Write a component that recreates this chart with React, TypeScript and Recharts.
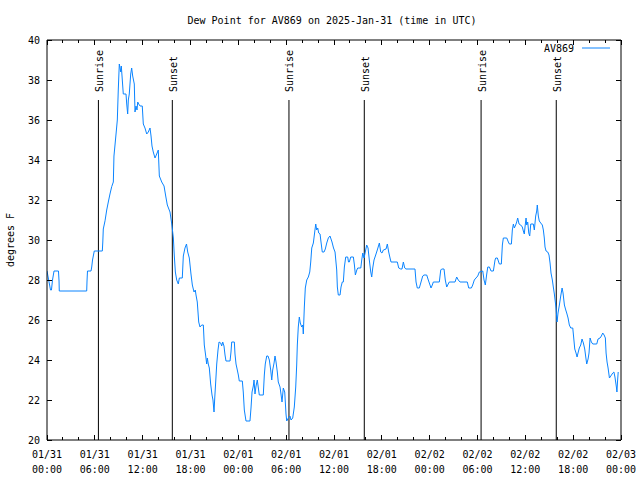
import React from 'react';
import { LineChart, Line, XAxis, YAxis, ReferenceLine, ReferenceDot } from 'recharts';

const hours: number[] = [
  0.00, 0.21, 0.44, 0.56, 0.69, 0.88, 1.44, 1.51, 1.54, 4.98, 5.02, 5.08, 5.52, 5.61, 5.71, 5.93, 6.94, 7.00, 7.06, 7.28,
  7.49, 7.69, 7.90, 8.12, 8.32, 8.40, 8.66, 8.82, 8.94, 9.07, 9.25, 9.32, 9.41, 9.57, 9.91, 10.00, 10.12, 10.20, 10.32, 10.50,
  10.62, 10.75, 10.95, 11.04, 11.16, 11.29, 11.38, 11.50, 11.67, 11.95, 12.08, 12.29, 12.51, 12.71, 12.92, 13.05, 13.17, 13.33, 13.55, 13.76,
  13.96, 14.09, 14.39, 14.68, 14.89, 15.09, 15.43, 15.65, 15.85, 15.97, 16.10, 16.27, 16.47, 16.60, 16.97, 17.10, 17.31, 17.50, 17.65, 17.85,
  18.06, 18.23, 18.44, 18.60, 18.69, 18.85, 19.03, 19.19, 19.41, 19.61, 19.73, 19.91, 20.03, 20.11, 20.23, 20.36, 20.53, 20.70, 20.82, 20.95,
  21.04, 21.16, 21.29, 21.45, 21.58, 21.79, 21.91, 22.04, 22.20, 22.33, 22.45, 22.96, 23.08, 23.17, 23.50, 23.58, 23.71, 23.87, 24.00, 24.12,
  24.50, 24.62, 24.75, 24.96, 25.46, 25.59, 25.72, 25.88, 25.97, 26.09, 26.22, 26.38, 26.51, 26.63, 27.13, 27.26, 27.38, 27.56, 27.72, 27.89,
  28.06, 28.19, 28.31, 28.48, 28.60, 28.73, 28.89, 29.01, 29.23, 29.35, 29.48, 29.64, 29.82, 29.98, 30.07, 30.27, 30.48, 30.61, 30.82, 31.02,
  31.20, 31.32, 31.40, 31.52, 31.65, 31.77, 31.95, 32.08, 32.15, 32.28, 32.40, 32.58, 32.78, 32.96, 33.08, 33.21, 33.41, 33.58, 33.71, 33.83,
  33.96, 34.08, 34.25, 34.37, 34.53, 34.75, 34.91, 35.09, 35.29, 35.50, 35.75, 35.94, 36.13, 36.34, 36.42, 36.54, 36.76, 36.88, 37.04, 37.17,
  37.30, 37.47, 37.72, 37.82, 37.92, 38.10, 38.43, 38.56, 38.68, 38.86, 38.98, 39.36, 39.48, 39.61, 39.77, 39.90, 40.10, 40.27, 40.43, 40.61,
  40.73, 40.86, 41.02, 41.23, 41.43, 41.69, 41.86, 42.02, 42.19, 42.53, 42.69, 42.86, 43.03, 43.15, 43.94, 44.12, 44.37, 44.53, 44.70, 44.87,
  45.03, 46.16, 46.29, 46.45, 46.70, 46.88, 47.13, 47.29, 47.63, 47.83, 48.04, 48.17, 48.33, 48.46, 49.21, 49.39, 49.51, 49.80, 49.96, 50.14,
  50.26, 50.46, 51.18, 51.39, 51.59, 51.81, 52.72, 52.90, 53.23, 53.40, 53.60, 53.81, 54.03, 54.23, 54.66, 54.82, 54.98, 55.16, 55.29, 55.49,
  55.70, 55.99, 56.20, 56.29, 56.49, 56.74, 56.99, 57.12, 57.24, 57.67, 57.87, 58.00, 58.25, 58.37, 58.50, 58.62, 58.79, 58.92, 59.04, 59.21,
  59.42, 59.62, 59.75, 59.87, 59.96, 60.09, 60.17, 60.30, 60.43, 60.55, 60.68, 61.00, 61.13, 61.30, 61.43, 61.50, 61.63, 61.75, 61.93, 62.13,
  62.26, 62.38, 62.47, 62.60, 62.81, 62.97, 63.10, 63.22, 63.39, 63.51, 63.64, 63.73, 63.85, 63.98, 64.10, 64.27, 64.44, 64.61, 64.73, 64.90,
  65.07, 65.19, 65.36, 65.52, 65.70, 65.95, 66.07, 66.20, 66.36, 66.49, 66.61, 66.77, 66.95, 67.11, 67.28, 67.45, 67.58, 67.70, 67.87, 67.99,
  68.12, 68.28, 68.46, 68.96, 69.12, 69.37, 69.54, 69.71, 69.88, 70.04, 70.13, 70.25, 70.38, 70.55, 70.72, 70.97, 71.11, 71.24, 71.42, 71.49,
  71.56, 71.65,
];

const dewPoint: number[] = [
  28.45, 28.0, 27.5, 27.5, 28.0, 28.45, 28.45, 27.95, 27.45, 27.45, 27.95, 28.45, 28.45, 28.65, 29.0, 29.45, 29.45, 29.9, 30.55, 30.96,
  31.5, 31.9, 32.3, 32.67, 32.9, 34.2, 35.3, 36.0, 37.5, 38.8, 38.4, 38.7, 38.2, 37.3, 37.3, 36.8, 36.3, 37.0, 37.3, 38.3,
  38.6, 38.2, 37.8, 36.4, 36.7, 36.5, 36.9, 36.8, 36.7, 36.7, 35.8, 35.6, 35.3, 35.4, 35.6, 35.2, 34.7, 34.4, 34.1, 34.3,
  34.5, 33.2, 32.9, 32.7, 32.2, 31.75, 31.4, 30.8, 30.1, 29.2, 28.4, 28.0, 27.8, 28.1, 28.1, 29.2, 29.6, 29.8, 29.4, 29.1,
  28.3, 27.75, 27.4, 27.5, 27.25, 26.9, 25.9, 25.65, 25.75, 25.75, 24.75, 24.2, 23.8, 24.1, 23.8, 23.6, 22.8, 22.25, 22.0, 21.4,
  22.1, 22.9, 23.8, 24.5, 24.9, 24.85, 24.7, 24.9, 24.7, 24.25, 23.95, 23.95, 24.4, 24.9, 24.9, 24.3, 23.8, 23.5, 23.25, 22.95,
  22.95, 22.4, 21.5, 20.95, 20.95, 21.6, 22.4, 22.7, 23.0, 22.3, 22.7, 23.0, 22.6, 22.25, 22.25, 23.25, 23.8, 24.2, 24.2, 24.0,
  23.5, 23.0, 23.5, 23.85, 24.2, 23.9, 23.4, 22.9, 22.65, 22.3, 21.9, 22.6, 22.4, 21.3, 20.95, 21.1, 21.2, 21.0, 21.1, 21.65,
  22.65, 23.75, 24.75, 25.65, 26.15, 25.85, 25.65, 25.75, 25.3, 26.65, 27.6, 28.0, 28.15, 28.4, 28.9, 29.6, 29.85, 30.4, 30.8, 30.5,
  30.6, 30.35, 30.3, 29.9, 29.4, 29.4, 29.55, 29.85, 30.1, 30.2, 29.9, 29.6, 29.4, 28.5, 27.65, 27.25, 27.25, 27.65, 27.9, 27.9,
  28.65, 29.15, 29.15, 28.9, 28.9, 29.15, 29.15, 28.75, 28.25, 28.5, 28.6, 28.6, 29.0, 29.35, 29.1, 29.35, 29.75, 29.6, 29.0, 28.4,
  28.15, 28.6, 29.0, 29.25, 29.5, 29.85, 29.4, 29.35, 29.5, 29.55, 29.8, 29.4, 29.1, 28.9, 28.9, 28.6, 28.55, 28.55, 28.9, 28.6,
  28.55, 28.55, 27.9, 27.6, 27.6, 27.85, 28.2, 28.25, 28.25, 28.0, 27.75, 27.6, 27.75, 27.9, 27.9, 28.5, 28.55, 28.55, 28.0, 27.65,
  27.75, 27.9, 27.9, 28.15, 28.0, 27.9, 27.9, 27.6, 27.6, 27.75, 28.0, 28.1, 28.2, 28.4, 28.45, 28.0, 27.75, 28.3, 28.65, 28.65,
  28.45, 28.45, 29.0, 29.1, 29.1, 28.8, 28.8, 29.75, 30.1, 30.1, 29.9, 29.8, 29.8, 30.5, 30.8, 30.6, 30.75, 30.9, 31.1, 30.8,
  30.75, 30.65, 30.45, 30.3, 30.65, 31.1, 30.75, 30.9, 30.35, 30.2, 30.8, 30.8, 30.5, 31.2, 31.45, 31.75, 31.2, 30.95, 30.85, 30.75,
  30.5, 30.1, 29.65, 29.45, 29.4, 29.25, 28.85, 28.35, 28.0, 27.65, 27.3, 27.0, 26.6, 25.9, 26.35, 26.75, 27.2, 27.6, 27.35, 26.75,
  26.5, 26.35, 26.1, 25.75, 25.6, 25.6, 25.1, 24.55, 24.35, 24.15, 24.35, 24.6, 24.75, 25.05, 24.85, 24.55, 24.15, 23.8, 24.05, 24.35,
  25.1, 24.9, 24.8, 24.8, 25.05, 25.1, 25.2, 25.35, 25.25, 25.1, 24.35, 23.9, 23.6, 23.1, 23.2, 23.35, 23.4, 23.15, 22.65, 22.4,
  22.9, 23.4,
];

const xTicks: number[] = [0, 2, 4, 6, 8, 10, 12, 14, 16, 18, 20, 22, 24, 26, 28, 30, 32, 34, 36, 38, 40, 42, 44, 46, 48, 50, 52, 54, 56, 58, 60, 62, 64, 66, 68, 70, 72];
const majorHours: number[] = [0, 6, 12, 18, 24, 30, 36, 42, 48, 54, 60, 66, 72];
const tickDates: string[] = ['01/31', '01/31', '01/31', '01/31', '02/01', '02/01', '02/01', '02/01', '02/02', '02/02', '02/02', '02/02', '02/03'];
const tickTimes: string[] = ['00:00', '06:00', '12:00', '18:00', '00:00', '06:00', '12:00', '18:00', '00:00', '06:00', '12:00', '18:00', '00:00'];
const yTicks: number[] = [20, 22, 24, 26, 28, 30, 32, 34, 36, 38, 40];

const sunriseHours: number[] = [6.45, 30.35, 54.45];
const sunsetHours: number[] = [15.72, 39.8, 63.88];
const sunLineTop = 37;

const title = 'Dew Point for AV869 on 2025-Jan-31 (time in UTC)';
const yLabel = 'degrees F';
const seriesName = 'AV869';

const data = hours.map((h, i) => ({ h, v: dewPoint[i] }));

const FONT = 'DejaVu Sans Mono, monospace';
const LINE_COLOR = '#0a84ff';

const BottomTick = (props: any) => {
  const { x, y, payload } = props;
  const idx = majorHours.indexOf(payload.value);
  const major = idx >= 0;
  return (
    <g>
      <line x1={x} y1={y} x2={x} y2={y - (major ? 5 : 3)} stroke="#000" shapeRendering="crispEdges" />
      {major && (
        <text x={x} y={y} textAnchor="middle" fontFamily={FONT} fontSize={10} fill="#000">
          <tspan x={x} dy={18}>{tickDates[idx]}</tspan>
          <tspan x={x} dy={15}>{tickTimes[idx]}</tspan>
        </text>
      )}
    </g>
  );
};

const TopTick = (props: any) => {
  const { x, y, payload } = props;
  const major = majorHours.indexOf(payload.value) >= 0;
  return <line x1={x} y1={y} x2={x} y2={y + (major ? 5 : 3)} stroke="#000" shapeRendering="crispEdges" />;
};

const LeftTick = (props: any) => {
  const { x, y, payload } = props;
  return (
    <g>
      <line x1={x} y1={y} x2={x + 5} y2={y} stroke="#000" shapeRendering="crispEdges" />
      <text x={x - 7} y={y + 4} textAnchor="end" fontFamily={FONT} fontSize={10} fill="#000">
        {payload.value}
      </text>
    </g>
  );
};

const RightTick = (props: any) => {
  const { x, y } = props;
  return <line x1={x} y1={y} x2={x - 5} y2={y} stroke="#000" shapeRendering="crispEdges" />;
};

const sunLabel = (text: string) => (p: any) => (
  <text
    transform={`translate(${p.cx + 4.5},${p.cy - 8}) rotate(-90)`}
    textAnchor="start"
    fontFamily={FONT}
    fontSize={10}
    fill="#000"
  >
    {text}
  </text>
);

export default function App() {
  return (
    <div style={{ position: 'absolute', left: 0, top: 0, width: 640, height: 480, background: '#fff' }}>
      <LineChart width={640} height={480} data={data} margin={{ top: 0, right: 0, bottom: 0, left: 0 }}>
        <XAxis
          xAxisId="bottom"
          dataKey="h"
          type="number"
          domain={[0, 72]}
          ticks={xTicks}
          interval={0}
          orientation="bottom"
          height={40}
          tickSize={0}
          tickMargin={0}
          tickLine={false}
          tick={<BottomTick />}
          axisLine={{ stroke: '#000' }}
          allowDataOverflow
        />
        <XAxis
          xAxisId="top"
          dataKey="h"
          type="number"
          domain={[0, 72]}
          ticks={xTicks}
          interval={0}
          orientation="top"
          height={40}
          tickSize={0}
          tickMargin={0}
          tickLine={false}
          tick={<TopTick />}
          axisLine={{ stroke: '#000' }}
          allowDataOverflow
        />
        <YAxis
          yAxisId="left"
          type="number"
          domain={[20, 40]}
          ticks={yTicks}
          interval={0}
          orientation="left"
          width={47}
          tickSize={0}
          tickMargin={0}
          tickLine={false}
          tick={<LeftTick />}
          axisLine={{ stroke: '#000' }}
          allowDataOverflow
        />
        <YAxis
          yAxisId="right"
          type="number"
          domain={[20, 40]}
          ticks={yTicks}
          interval={0}
          orientation="right"
          width={19}
          tickSize={0}
          tickMargin={0}
          tickLine={false}
          tick={<RightTick />}
          axisLine={{ stroke: '#000' }}
          allowDataOverflow
        />
        {sunriseHours.map((h) => (
          <ReferenceLine
            key={`sr-${h}`}
            xAxisId="bottom"
            yAxisId="left"
            segment={[{ x: h, y: 20 }, { x: h, y: sunLineTop }]}
            stroke="#000"
            strokeWidth={1}
          />
        ))}
        {sunsetHours.map((h) => (
          <ReferenceLine
            key={`ss-${h}`}
            xAxisId="bottom"
            yAxisId="left"
            segment={[{ x: h, y: 20 }, { x: h, y: sunLineTop }]}
            stroke="#000"
            strokeWidth={1}
          />
        ))}
        {sunriseHours.map((h) => (
          <ReferenceDot key={`srl-${h}`} xAxisId="bottom" yAxisId="left" x={h} y={sunLineTop} r={0} shape={sunLabel('Sunrise')} />
        ))}
        {sunsetHours.map((h) => (
          <ReferenceDot key={`ssl-${h}`} xAxisId="bottom" yAxisId="left" x={h} y={sunLineTop} r={0} shape={sunLabel('Sunset')} />
        ))}
        <Line
          xAxisId="bottom"
          yAxisId="left"
          type="linear"
          dataKey="v"
          stroke={LINE_COLOR}
          strokeWidth={1}
          dot={false}
          activeDot={false}
          isAnimationActive={false}
        />
      </LineChart>
      <svg width={640} height={480} style={{ position: 'absolute', left: 0, top: 0, pointerEvents: 'none' }}>
        <text x={332} y={24} textAnchor="middle" fontFamily={FONT} fontSize={10} fill="#000">{title}</text>
        <text transform="translate(14,240) rotate(-90)" textAnchor="middle" fontFamily={FONT} fontSize={10} fill="#000">{yLabel}</text>
        <text x={574} y={52} textAnchor="end" fontFamily={FONT} fontSize={10} fill="#000">{seriesName}</text>
        <line x1={582} y1={48} x2={610} y2={48} stroke={LINE_COLOR} strokeWidth={1} />
      </svg>
    </div>
  );
}
